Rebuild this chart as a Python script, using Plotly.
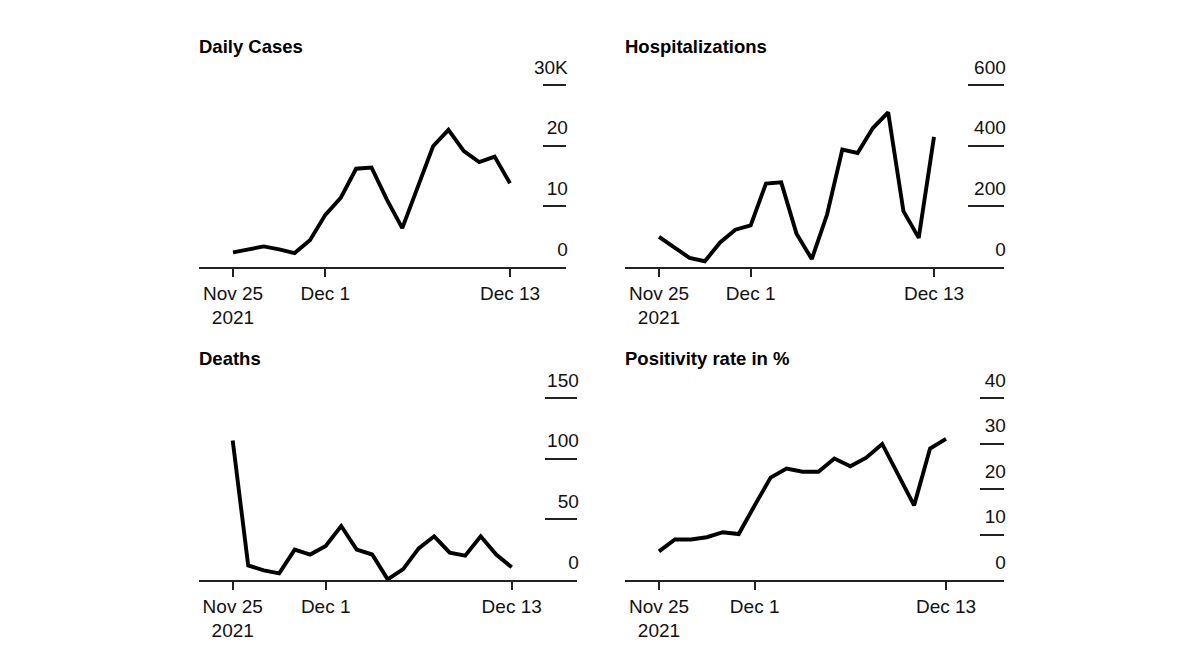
import pandas as pd
import plotly.graph_objects as go

# ---------------- data ----------------
dates = pd.date_range("2021-11-25", "2021-12-13", freq="D")

daily_cases = [2400, 2900, 3400, 2900, 2300, 4400, 8600, 11400, 16200, 16400,
               11100, 6400, 13300, 19900, 22600, 19100, 17300, 18200, 13800]
hospitalizations = [99, 63, 30, 19, 81, 123, 137, 275, 279, 110,
                    26, 173, 387, 376, 458, 510, 184, 96, 429]
deaths = [115, 12, 8, 5.5, 25, 21, 28, 44.5, 25, 21,
          0.5, 9, 26, 36, 22.5, 20, 36, 21, 10.5]
positivity = [6.3, 8.9, 8.9, 9.4, 10.5, 10.1, 16.4, 22.5, 24.5, 23.8,
              23.8, 26.7, 25.0, 26.9, 29.9, 23.2, 16.4, 28.9, 31.0]

titles = ["Daily Cases", "Hospitalizations", "Deaths", "Positivity rate in %"]

cases_ticks = [0, 10000, 20000, 30000]
cases_ticktext = ["0", "10", "20", "30K"]
hosp_ticks = [0, 200, 400, 600]
hosp_ticktext = ["0", "200", "400", "600"]
deaths_ticks = [0, 50, 100, 150]
deaths_ticktext = ["0", "50", "100", "150"]
pos_ticks = [0, 10, 20, 30, 40]
pos_ticktext = ["0", "10", "20", "30", "40"]

xtick_dates = ["2021-11-25", "2021-12-01", "2021-12-13"]
xtick_text = ["Nov 25<br>2021", "Dec 1", "Dec 13"]

# ---------------- layout geometry (pixels, window coordinates) ----------------
W, H = 1200, 660
OFF = 8  # page body margin offset
FONT = "Liberation Sans, Arial, Helvetica, sans-serif"

panels = [
    dict(y=daily_cases, tv=cases_ticks, tt=cases_ticktext, x0=199, x1=566,
         p_a=233, p_b=510, base=267, toptick=85, top=48, tl=23, title=titles[0], ty=47),
    dict(y=hospitalizations, tv=hosp_ticks, tt=hosp_ticktext, x0=625, x1=1004,
         p_a=659, p_b=934, base=267, toptick=85, top=48, tl=36, title=titles[1], ty=47),
    dict(y=deaths, tv=deaths_ticks, tt=deaths_ticktext, x0=199, x1=577,
         p_a=232.7, p_b=511.7, base=580, toptick=398, top=360, tl=32, title=titles[2], ty=358),
    dict(y=positivity, tv=pos_ticks, tt=pos_ticktext, x0=625, x1=1004,
         p_a=659, p_b=946, base=580, toptick=398, top=360, tl=24, title=titles[3], ty=358),
]


def fx(px):
    return (px - OFF) / W


def fy(px):
    return 1 - (px - OFF) / H


fig = go.Figure()
d_a = pd.Timestamp("2021-11-25")
ndays = 18

for i, p in enumerate(panels, start=1):
    xa = "x" if i == 1 else f"x{i}"
    ya = "y" if i == 1 else f"y{i}"
    fig.add_trace(go.Scatter(
        x=dates, y=p["y"], mode="lines",
        line=dict(color="#000000", width=3.9),
        xaxis=xa, yaxis=ya, showlegend=False, hoverinfo="skip"))

    ppd = (p["p_b"] - p["p_a"]) / ndays
    start = d_a - pd.Timedelta(days=(p["p_a"] - p["x0"]) / ppd)
    end = d_a + pd.Timedelta(days=(p["x1"] - p["p_a"]) / ppd)

    ymaxtick = p["tv"][-1]
    ytop = ymaxtick * (p["base"] - p["top"]) / (p["base"] - p["toptick"])

    xkey = "xaxis" if i == 1 else f"xaxis{i}"
    ykey = "yaxis" if i == 1 else f"yaxis{i}"
    fig.layout[xkey] = dict(
        domain=[fx(p["x0"]), fx(p["x1"])],
        anchor=ya, type="date",
        range=[start, end],
        tickvals=xtick_dates, ticktext=xtick_text,
        showline=True, linecolor="#222222", linewidth=1.5,
        ticks="outside", ticklen=8, tickwidth=1.5, tickcolor="#222222",
        showgrid=False, zeroline=False,
        tickfont=dict(family=FONT, size=19, color="#111111"),
        fixedrange=True,
    )
    fig.layout[ykey] = dict(
        domain=[fy(p["base"]), fy(p["top"])],
        anchor=xa, side="right",
        range=[0, ytop],
        tickvals=p["tv"], ticktext=p["tt"],
        ticks="inside", ticklen=p["tl"], tickwidth=1.5, tickcolor="#222222",
        ticklabelposition="inside", ticklabelshift=-18,
        ticklabelstandoff=-(p["tl"] + 1),
        showline=False, showgrid=False, zeroline=False,
        tickfont=dict(family=FONT, size=19, color="#111111"),
        fixedrange=True,
    )
    fig.add_annotation(
        text=f"<b>{p['title']}</b>", xref="paper", yref="paper",
        x=fx(p["x0"] - 2), y=fy(p["ty"]), xanchor="left", yanchor="middle",
        showarrow=False, font=dict(family=FONT, size=18.5, color="#000000"))

fig.update_layout(
    width=W, height=H,
    margin=dict(l=0, r=0, t=0, b=0),
    paper_bgcolor="#ffffff", plot_bgcolor="#ffffff",
    showlegend=False,
)

fig.write_html("out.html")
